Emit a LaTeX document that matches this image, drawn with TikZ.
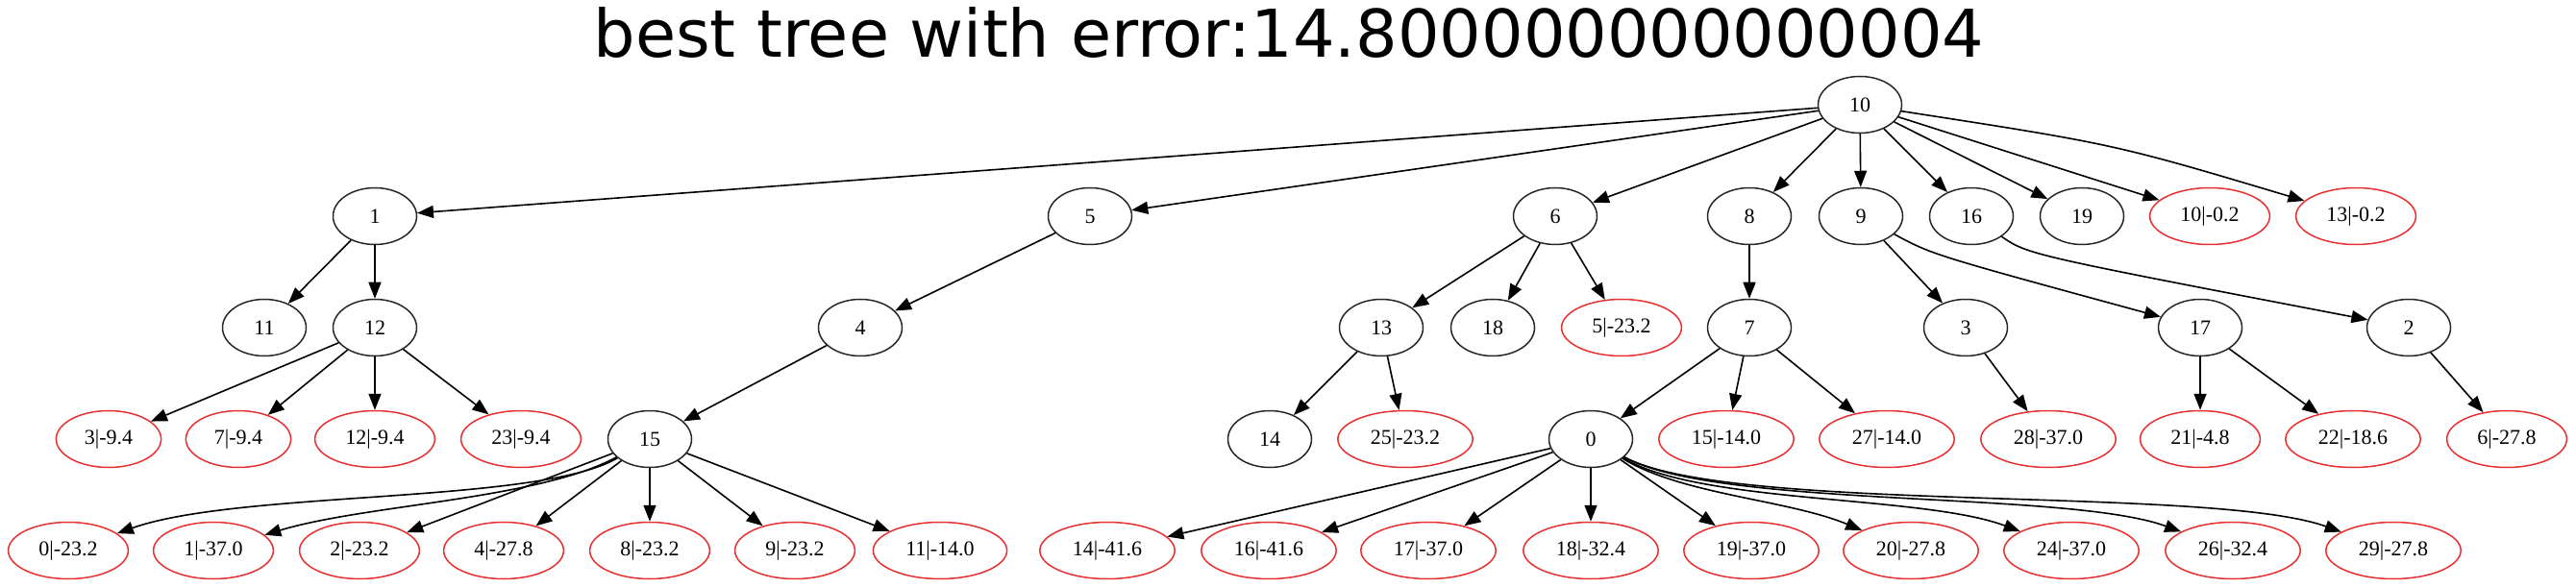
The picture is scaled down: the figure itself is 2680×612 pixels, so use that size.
\documentclass[tikz,border=0pt]{standalone}
\usepackage{fontspec}
\setmainfont{Liberation Serif}
\newfontfamily\titlefont{DejaVu Sans}
\usetikzlibrary{arrows.meta,shapes.geometric}
\definecolor{leafred}{RGB}{232,48,48}
\begin{document}
\begin{tikzpicture}[x=1pt,y=-1pt,
  gnode/.style={ellipse,draw=black!85,line width=1.5pt,minimum width=87pt,minimum height=59pt,
    inner xsep=13.5pt,inner ysep=0pt,font=\fontsize{22}{24}\selectfont},
  gleaf/.style={gnode,draw=leafred},
  gedge/.style={-{Triangle[length=17pt,width=13pt]},line width=1.6pt,black}]
\useasboundingbox (0,0) rectangle (2680,612);
\node[font=\titlefont\fontsize{68.5}{72}\selectfont,anchor=base,inner sep=0pt] (title) at (1341,60) {best tree with error:14.800000000000004};
% row 0
\node[gnode] (n10) at (1935,109) {10};
% row 1
\node[gnode] (n1) at (390,225) {1};
\node[gnode] (n5) at (1134,225) {5};
\node[gnode] (n6) at (1618,225) {6};
\node[gnode] (n8) at (1820,225) {8};
\node[gnode] (n9) at (1936,225) {9};
\node[gnode] (n16) at (2051,225) {16};
\node[gnode] (n19) at (2166,225) {19};
\node[gleaf] (l10) at (2299,225) {10|-0.2};
\node[gleaf] (l13) at (2451,225) {13|-0.2};
% row 2
\node[gnode] (n11) at (275,341) {11};
\node[gnode] (n12) at (390,341) {12};
\node[gnode] (n4) at (895,341) {4};
\node[gnode] (n13) at (1437,341) {13};
\node[gnode] (n18) at (1553,341) {18};
\node[gleaf] (l5) at (1687,341) {5|-23.2};
\node[gnode] (n7) at (1820,341) {7};
\node[gnode] (n3) at (2045,341) {3};
\node[gnode] (n17) at (2289,341) {17};
\node[gnode] (n2) at (2506,341) {2};
% row 3
\node[gleaf] (l3) at (113,457) {3|-9.4};
\node[gleaf] (l7) at (248,457) {7|-9.4};
\node[gleaf] (l12) at (390,457) {12|-9.4};
\node[gleaf] (l23) at (542,457) {23|-9.4};
\node[gnode] (n15) at (676,457) {15};
\node[gnode] (n14) at (1321,457) {14};
\node[gleaf] (l25) at (1462,457) {25|-23.2};
\node[gnode] (n0) at (1655,457) {0};
\node[gleaf] (l15) at (1796,457) {15|-14.0};
\node[gleaf] (l27) at (1963,457) {27|-14.0};
\node[gleaf] (l28) at (2131,457) {28|-37.0};
\node[gleaf] (l21) at (2289,457) {21|-4.8};
\node[gleaf] (l22) at (2448,457) {22|-18.6};
\node[gleaf] (l6) at (2608,457) {6|-27.8};
% row 4
\node[gleaf] (l0) at (71,573) {0|-23.2};
\node[gleaf] (l1) at (222,573) {1|-37.0};
\node[gleaf] (l2) at (374,573) {2|-23.2};
\node[gleaf] (l4) at (524,573) {4|-27.8};
\node[gleaf] (l8) at (676,573) {8|-23.2};
\node[gleaf] (l9) at (827,573) {9|-23.2};
\node[gleaf] (l11) at (978,573) {11|-14.0};
\node[gleaf] (l14) at (1152,573) {14|-41.6};
\node[gleaf] (l16) at (1320,573) {16|-41.6};
\node[gleaf] (l17) at (1486,573) {17|-37.0};
\node[gleaf] (l18) at (1655,573) {18|-32.4};
\node[gleaf] (l19) at (1822,573) {19|-37.0};
\node[gleaf] (l20) at (1988,573) {20|-27.8};
\node[gleaf] (l24) at (2155,573) {24|-37.0};
\node[gleaf] (l26) at (2323,573) {26|-32.4};
\node[gleaf] (l29) at (2490,573) {29|-27.8};
% edges from 10
\foreach \t in {n1,n5,n6,n8,n9,n16,n19,l10} \draw[gedge] (n10) -- (\t);
\draw[gedge] (n10) .. controls (2200,150) .. (l13);
% 1
\draw[gedge] (n1) -- (n11);
\draw[gedge] (n1) -- (n12);
\foreach \t in {l3,l7,l12,l23} \draw[gedge] (n12) -- (\t);
% 5, 4
\draw[gedge] (n5) -- (n4);
\draw[gedge] (n4) -- (n15);
% 15
\draw[gedge] (n15) .. controls (560,525) and (250,510) .. (l0);
\draw[gedge] (n15) .. controls (560,520) and (380,525) .. (l1);
\foreach \t in {l2,l4,l8,l9,l11} \draw[gedge] (n15) -- (\t);
% 6, 13
\foreach \t in {n13,n18,l5} \draw[gedge] (n6) -- (\t);
\draw[gedge] (n13) -- (n14);
\draw[gedge] (n13) -- (l25);
% 8, 7
\draw[gedge] (n8) -- (n7);
\foreach \t in {n0,l15,l27} \draw[gedge] (n7) -- (\t);
% 0
\foreach \t in {l14,l16,l17,l18,l19} \draw[gedge] (n0) -- (\t);
\draw[gedge] (n0) .. controls (1750,515) and (1860,520) .. (l20);
\draw[gedge] (n0) .. controls (1770,525) and (2000,515) .. (l24);
\draw[gedge] (n0) .. controls (1790,530) and (2150,510) .. (l26);
\draw[gedge] (n0) .. controls (1800,535) and (2300,505) .. (l29);
% 9, 3, 17
\draw[gedge] (n9) -- (n3);
\draw[gedge] (n9) .. controls (2010,265) .. (n17);
\draw[gedge] (n3) -- (l28);
\draw[gedge] (n17) -- (l21);
\draw[gedge] (n17) -- (l22);
% 16, 2
\draw[gedge] (n16) .. controls (2110,265) .. (n2);
\draw[gedge] (n2) -- (l6);
\end{tikzpicture}
\end{document}
